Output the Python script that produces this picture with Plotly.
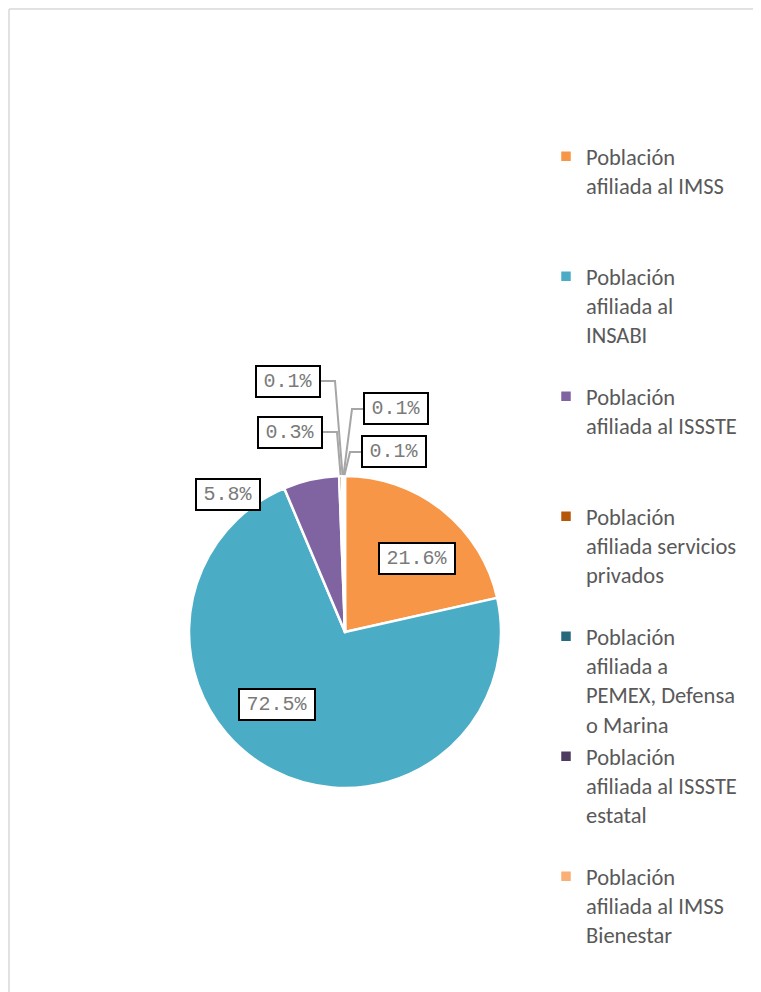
import math
import plotly.graph_objects as go

# Data
labels = [
    "Población<br>afiliada al IMSS",
    "Población<br>afiliada al<br>INSABI",
    "Población<br>afiliada al ISSSTE",
    "Población<br>afiliada servicios<br>privados",
    "Población<br>afiliada a<br>PEMEX, Defensa<br>o Marina",
    "Población<br>afiliada al ISSSTE<br>estatal",
    "Población<br>afiliada al IMSS<br>Bienestar",
]
values = [21.6, 72.5, 5.8, 0.3, 0.1, 0.1, 0.1]
colors = ["#F79646", "#4BACC6", "#8064A2", "#B65708", "#276A7C", "#4D3B62", "#F9B074"]

# Layout: the page body has an 8px margin, so offset everything by it
OFF = 8
W, H = 761 - 2 * OFF, 992 - OFF
CX, CY, R = 345, 632, 156   # pie centre / radius in window pixels

# label box centres and elbow x for leader lines (None = no leader), window pixels
label_pos = [(417, 558), (277, 704), (228, 495), (290, 432), (288, 381), (396, 409), (394, 452)]
elbow_x = [None, None, None, 337, 335, 352, 350]


def px(x):
    return (x - OFF) / W


def py(y):
    return 1 - (y - OFF) / H


# pad legend entries to four lines so every entry gets the same height
legend_labels = []
for lab in labels:
    n = lab.count("<br>") + 1
    legend_labels.append(lab + "<br> " * (4 - n))

fig = go.Figure()
fig.add_trace(go.Pie(
    labels=legend_labels,
    values=values,
    sort=False,
    direction="clockwise",
    rotation=0,
    textinfo="none",
    hoverinfo="label+value",
    marker=dict(colors=colors, line=dict(color="white", width=2.5)),
    domain=dict(x=[px(CX - R), px(CX + R)], y=[py(CY + R), py(CY - R)]),
))

# data labels + leader lines
total = sum(values)
cum = 0
annotations = []
shapes = []
for i, v in enumerate(values):
    mid = (cum + v / 2) / total * 2 * math.pi
    cum += v
    lx, ly = label_pos[i]
    txt = f"{v:.1f}%"
    bw = 12 * len(txt) + 14
    annotations.append(dict(
        x=px(lx), y=py(ly), xref="paper", yref="paper",
        xanchor="center", yanchor="middle",
        text=txt, showarrow=False,
        font=dict(family="Liberation Mono, Courier New, monospace", size=20, color="#7A7A7A"),
        bgcolor="white", bordercolor="black", borderwidth=2, borderpad=0,
        width=bw, height=29,
    ))
    if elbow_x[i] is not None:
        ex = CX + (R + 1) * math.sin(mid)
        ey = CY - (R + 1) * math.cos(mid)
        half = bw / 2 + 2
        sx = lx + half if elbow_x[i] > lx else lx - half
        path = f"M{px(sx)},{py(ly)} L{px(elbow_x[i])},{py(ly)} L{px(ex)},{py(ey)}"
        shapes.append(dict(type="path", xref="paper", yref="paper", path=path,
                           line=dict(color="#A6A6A6", width=2)))

# chart area border: only the top and left edges are inside the crop
border = dict(color="#D9D9D9", width=1.5)
shapes.append(dict(type="line", xref="paper", yref="paper",
                   x0=1 / W, x1=1, y0=1 - 1 / H, y1=1 - 1 / H, line=border, layer="below"))
shapes.append(dict(type="line", xref="paper", yref="paper",
                   x0=1 / W, x1=1 / W, y0=0, y1=1 - 1 / H, line=border, layer="below"))

fig.update_layout(
    width=W, height=H,
    margin=dict(l=0, r=0, t=0, b=0),
    paper_bgcolor="white",
    plot_bgcolor="white",
    showlegend=True,
    legend=dict(
        x=px(546), y=py(135), xanchor="left", yanchor="top",
        valign="top",
        font=dict(family="Carlito, Calibri, Lato, sans-serif", size=22.5, color="#595959"),
        bgcolor="rgba(0,0,0,0)",
    ),
    annotations=annotations,
    shapes=shapes,
)

fig.write_html("out.html")
